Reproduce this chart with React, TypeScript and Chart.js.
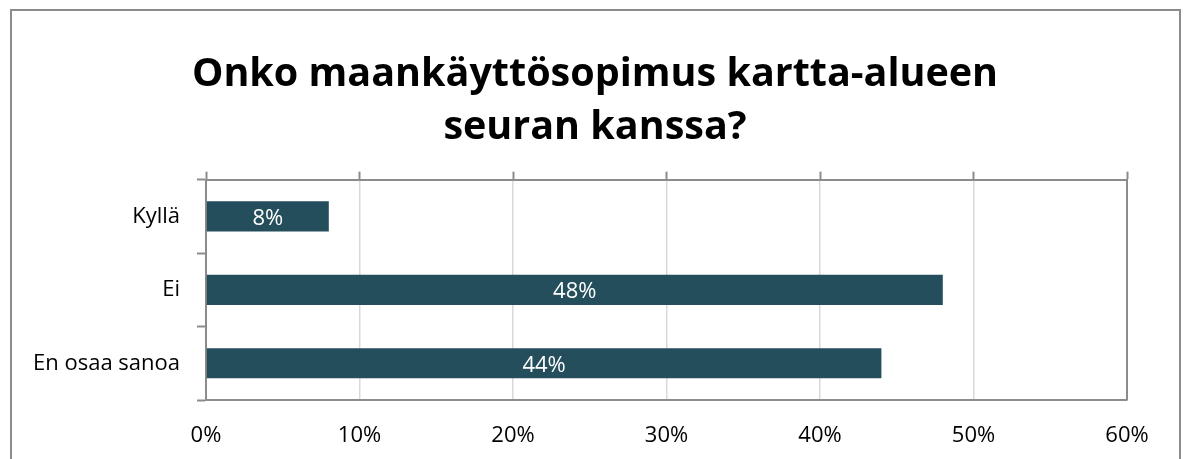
import React, { useEffect, useRef } from "react";
import { Chart, registerables } from "chart.js";

Chart.register(...registerables);

const titleLines = ["Onko maankäyttösopimus kartta-alueen", "seuran kanssa?"];
const categories = ["Kyllä", "Ei", "En osaa sanoa"];
const values = [8, 48, 44];
const xTickMin = 0;
const xTickMax = 60;
const xTickStep = 10;

const FONT = "'Open Sans', 'Noto Sans', sans-serif";
const BAR = "#244E5C";
const AXIS = "#8C8C8C";
const GRID = "#D9D9D9";

const frameAndLabels = {
  id: "frameAndLabels",
  afterLayout(chart: any) {
    const t = chart.titleBlock;
    if (t) {
      t.left = t.left + 63;
    }
  },
  afterDatasetsDraw(chart: any) {
    const ctx = chart.ctx;
    const a = chart.chartArea;
    ctx.save();
    ctx.strokeStyle = AXIS;
    ctx.lineWidth = 2;
    ctx.beginPath();
    ctx.moveTo(a.right, a.top);
    ctx.lineTo(a.right, a.bottom);
    ctx.stroke();
    const meta = chart.getDatasetMeta(0);
    ctx.fillStyle = "#FFFFFF";
    ctx.font = `22px ${FONT}`;
    ctx.textAlign = "center";
    ctx.textBaseline = "middle";
    meta.data.forEach((el: any, i: number) => {
      const p = el.getProps(["x", "y", "base"], true);
      ctx.fillText(`${values[i]}%`, (p.x + p.base) / 2, p.y + 2);
    });
    ctx.restore();
  },
};

export default function App() {
  const ref = useRef<HTMLCanvasElement>(null);
  useEffect(() => {
    if (!ref.current) return;
    const chart = new Chart(ref.current, {
      type: "bar",
      data: {
        labels: categories,
        datasets: [
          {
            data: values,
            backgroundColor: BAR,
            barPercentage: 0.41,
            categoryPercentage: 1,
            xAxisID: "x",
            yAxisID: "y",
          },
        ],
      },
      options: {
        indexAxis: "y",
        responsive: false,
        animation: false,
        layout: { padding: { top: 0, left: 0, right: 57, bottom: 0 } },
        plugins: {
          legend: { display: false },
          tooltip: { enabled: false },
          title: {
            display: true,
            text: titleLines,
            color: "#000000",
            font: { family: FONT, size: 39.5, weight: "bold", lineHeight: 1.35 },
            padding: { top: 48, bottom: 17 },
          },
        },
        scales: {
          x: {
            type: "linear",
            position: "bottom",
            min: xTickMin,
            max: xTickMax,
            ticks: {
              stepSize: xTickStep,
              callback: (v: any) => `${v}%`,
              color: "#000000",
              font: { family: FONT, size: 22 },
              padding: 23,
            },
            grid: { color: GRID, lineWidth: 1.5, drawTicks: false },
            border: { color: AXIS, width: 2 },
            afterFit: (s: any) => {
              s.height = 59;
            },
          },
          x2: {
            type: "linear",
            position: "top",
            min: xTickMin,
            max: xTickMax,
            ticks: { stepSize: xTickStep, display: false },
            grid: {
              drawOnChartArea: false,
              drawTicks: true,
              tickLength: 8,
              tickColor: AXIS,
              tickWidth: 2,
              color: AXIS,
            },
            border: { color: AXIS, width: 2 },
            afterFit: (s: any) => {
              s.height = 8;
            },
          },
          y: {
            type: "category",
            position: "left",
            offset: true,
            ticks: {
              color: "#000000",
              font: { family: FONT, size: 22 },
              padding: 17,
            },
            grid: {
              offset: true,
              drawOnChartArea: false,
              tickLength: 9,
              tickColor: AXIS,
              tickWidth: 2,
              color: AXIS,
            },
            border: { color: AXIS, width: 2 },
            afterFit: (s: any) => {
              s.width = 206;
            },
          },
        },
      } as any,
      plugins: [frameAndLabels],
    });
    return () => chart.destroy();
  }, []);

  return (
    <div style={{ position: "fixed", left: 0, top: 0, width: 1184, height: 459, background: "#FFFFFF", overflow: "hidden" }}>
      <div
        style={{
          position: "absolute",
          left: 10,
          top: 9,
          width: 1171,
          height: 520,
          boxSizing: "border-box",
          border: `2px solid ${AXIS}`,
        }}
      />
      <canvas
        ref={ref}
        width={1184}
        height={459}
        style={{ position: "absolute", left: 0, top: 0, width: 1184, height: 459 }}
      />
    </div>
  );
}
